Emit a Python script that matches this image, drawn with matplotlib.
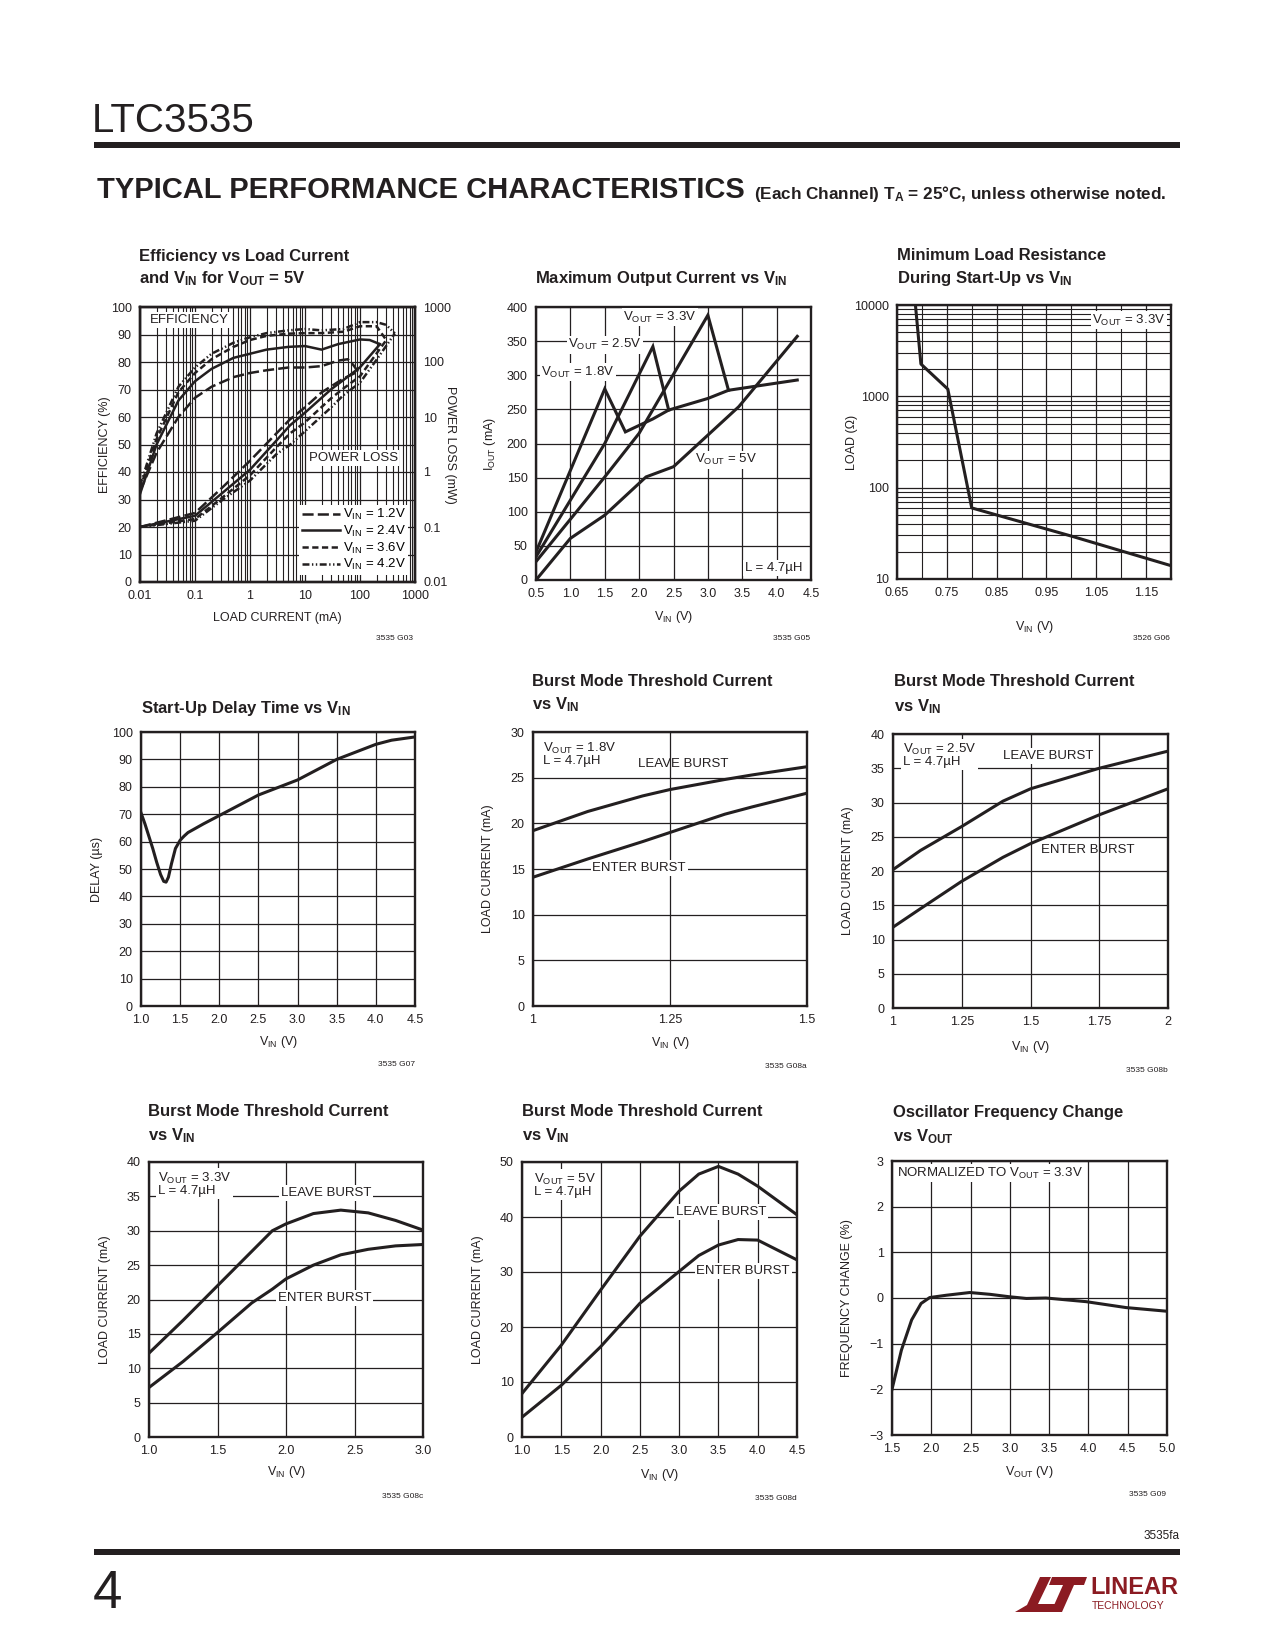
import matplotlib
matplotlib.use('Agg')
import matplotlib.pyplot as plt
from matplotlib.patches import Polygon, Rectangle
from matplotlib.lines import Line2D
from matplotlib.ticker import LogLocator, NullFormatter, NullLocator

# ---------------- data ----------------
# Efficiency vs load current (VOUT = 5V)
eff_i_12 = [0.01, 0.02, 0.05, 0.1, 0.2, 0.5, 1, 2, 5, 10, 20, 40, 60, 75, 92]
eff_12 = [33, 47, 60, 67, 71, 74.5, 76, 77, 78, 78, 78.5, 80.5, 81, 79, 76.5]
eff_i_24 = [0.01, 0.02, 0.05, 0.1, 0.2, 0.5, 1, 2, 5, 10, 20, 40, 100, 150, 230]
eff_24 = [32, 50, 66, 73, 77.5, 81.5, 83, 84.5, 85.5, 85.8, 84.5, 86.5, 88.2, 88, 86.5]
eff_i_36 = [0.01, 0.02, 0.05, 0.1, 0.2, 0.5, 1, 2, 5, 10, 20, 50, 100, 200, 300]
eff_36 = [34, 52, 69, 76, 81, 85.5, 88, 89.5, 90.3, 90.5, 90.5, 91, 93, 93, 88]
eff_i_42 = [0.01, 0.02, 0.05, 0.1, 0.2, 0.5, 1, 2, 5, 10, 20, 50, 100, 200, 300, 430]
eff_42 = [35, 54, 71, 78, 83, 87, 89, 90.5, 91.5, 92, 91.5, 92, 94.5, 94.5, 93.5, 90.4]

loss_i_12 = [0.01, 0.1, 0.3, 1, 3, 5.3, 10, 20, 50, 92]
loss_12 = [0.1, 0.18, 0.5, 1.6, 5, 9, 15, 28, 50, 67]
loss_i_24 = [0.01, 0.1, 0.3, 1, 3, 5.3, 10, 30, 50, 100, 230]
loss_24 = [0.1, 0.16, 0.4, 1.1, 3.7, 7, 12, 32, 47, 80, 210]
loss_i_36 = [0.01, 0.1, 0.3, 1, 3, 5.3, 10, 30, 50, 100, 300]
loss_36 = [0.1, 0.14, 0.33, 0.87, 2.8, 5, 8, 22, 33, 55, 250]
loss_i_42 = [0.01, 0.1, 0.3, 1, 3, 5.3, 10, 30, 50, 100, 200, 430]
loss_42 = [0.1, 0.13, 0.3, 0.7, 2.1, 3.1, 5.5, 15, 25, 42, 110, 330]

vin_labels = ['1.2V', '2.4V', '3.6V', '4.2V']

# Maximum output current vs VIN
mo_v_18 = [0.5, 1.5, 1.8, 2.2, 2.43, 3.0, 3.3, 4.3]
mo_i_18 = [41, 280, 217, 236, 249, 266, 278, 293]
mo_v_25 = [0.5, 1.5, 2.2, 2.43]
mo_i_25 = [34, 200, 342, 249]
mo_v_33 = [0.5, 1.5, 2.0, 3.0, 3.3]
mo_i_33 = [27, 151, 215, 388, 278]
mo_v_5 = [0.5, 1.0, 1.5, 2.1, 2.5, 3.45, 4.3]
mo_i_5 = [0, 61, 95, 151, 166, 254, 357]

# Minimum load resistance during start-up
ml_v = [0.687, 0.698, 0.752, 0.80, 1.0, 1.2]
ml_r = [10000, 2260, 1200, 60, 29.5, 14]

# Start-up delay time
sd_v = [1.0, 1.05, 1.1, 1.15, 1.2, 1.25, 1.29, 1.32, 1.35, 1.39, 1.44, 1.5, 1.55, 1.6,
        1.8, 2.0, 2.5, 3.0, 3.5, 4.0, 4.2, 4.5]
sd_t = [70.5, 66.5, 62, 57.5, 52.5, 48, 45.5, 45.2, 47, 52, 57.5, 60.5, 62, 63.3,
        66.5, 69.5, 77, 82.5, 90, 95.5, 97, 98.2]

# Burst mode thresholds
b18_v = [1.0, 1.1, 1.2, 1.25, 1.35, 1.4, 1.5]
b18_leave = [19.2, 21.3, 23.0, 23.7, 24.8, 25.3, 26.2]
b18_enter = [14.1, 16.1, 18.0, 19.0, 21.0, 21.8, 23.3]

b25_v = [1.0, 1.1, 1.25, 1.4, 1.5, 1.75, 2.0]
b25_leave = [20.2, 23.0, 26.5, 30.2, 32.0, 35.0, 37.5]
b25_enter = [11.8, 14.5, 18.5, 22.0, 24.0, 28.2, 32.0]

b33_v = [1.0, 1.25, 1.5, 1.75, 1.9, 2.0, 2.2, 2.4, 2.6, 2.8, 3.0]
b33_leave = [12.2, 17.0, 22.0, 27.0, 30.0, 31.0, 32.5, 33.0, 32.6, 31.5, 30.1]
b33_enter = [7.2, 11.0, 15.2, 19.5, 21.5, 23.0, 25.0, 26.5, 27.3, 27.8, 28.0]

b5_v = [1.0, 1.5, 2.0, 2.5, 3.0, 3.25, 3.5, 3.75, 4.0, 4.5]
b5_leave = [7.9, 16.7, 26.7, 36.5, 44.7, 47.8, 49.2, 47.8, 45.6, 40.4]
b5_enter = [3.6, 9.4, 16.4, 24.3, 30.1, 33.0, 34.9, 35.9, 35.8, 32.2]

# Oscillator frequency change vs VOUT
of_v = [1.5, 1.62, 1.75, 1.87, 1.98, 2.19, 2.49, 2.75, 2.98, 3.21, 3.46, 3.97, 4.48, 5.0]
of_pct = [-2.0, -1.14, -0.48, -0.12, 0.01, 0.06, 0.12, 0.08, 0.03, -0.01, 0.0, -0.08, -0.21, -0.29]

# ---------------- style ----------------
plt.rcParams['font.family'] = ['Liberation Sans', 'DejaVu Sans']
plt.rcParams['mathtext.fontset'] = 'custom'
plt.rcParams['mathtext.rm'] = 'Liberation Sans'
plt.rcParams['mathtext.sf'] = 'Liberation Sans'
plt.rcParams['mathtext.it'] = 'Liberation Sans:italic'
plt.rcParams['mathtext.bf'] = 'Liberation Sans:bold'
plt.rcParams['lines.scale_dashes'] = False

INK = '#231f20'
MAROON = '#8b1b22'
W, H = 1275, 1650
TICK_FS = 9
LAB_FS = 9
ANN_FS = 9.5
TITLE_FS = 12
LW = 2.2

fig = plt.figure(figsize=(12.75, 16.5), dpi=100)


def rect(l, t, r, b):
    return [l / W, 1 - b / H, (r - l) / W, (b - t) / H]


def ftext(x, y, s, **kw):
    kw.setdefault('color', INK)
    fig.text(x / W, 1 - y / H, s, **kw)


def make_axes(box, xlab, ylab, xdist, ydist):
    l, t, r, b = box
    ax = fig.add_axes(rect(l, t, r, b))
    ax.set_axisbelow(True)
    ax.grid(True, color=INK, lw=0.9)
    ax.tick_params(which='both', length=0, labelsize=TICK_FS, pad=6, colors=INK)
    for s in ax.spines.values():
        s.set_linewidth(1.7)
        s.set_color(INK)
    ax.set_xlabel(xlab, fontsize=LAB_FS, color=INK)
    ax.xaxis.set_label_coords(0.5, -xdist / (b - t))
    ax.xaxis.label.set_va('center')
    ax.set_ylabel(ylab, fontsize=LAB_FS, color=INK)
    ax.yaxis.set_label_coords(-ydist / (r - l), 0.5)
    ax.yaxis.label.set_va('center')
    return ax


def note(ax, x, y, s, ha='center', va='center', box=True, **kw):
    bb = dict(facecolor='white', edgecolor='none', pad=1.2) if box else None
    ax.text(x, y, s, transform=ax.transAxes, ha=ha, va=va, fontsize=ANN_FS,
            color=INK, bbox=bb, zorder=5, **kw)


def title(x, ys, lines):
    for y, s in zip(ys, lines):
        ftext(x, y, s, fontsize=TITLE_FS, fontweight='bold', va='center', ha='left')


# ---------------- page header / footer ----------------
ftext(92, 121, 'LTC3535', fontsize=29, va='center', ha='left')
fig.add_artist(Rectangle((94 / W, 1 - 148 / H), (1180 - 94) / W, 6 / H,
                         transform=fig.transFigure, color=INK, lw=0))
ftext(97, 190, 'TYPICAL PERFORMANCE CHARACTERISTICS', fontsize=21,
      fontweight='bold', va='center', ha='left')
ftext(1166, 194, r'(Each Channel) T$_{\mathbf{A}}$ = 25°C, unless otherwise noted.',
      fontsize=12.3, fontweight='bold', va='center', ha='right')

ftext(1180, 1536, '3535fa', fontsize=8.5, va='center', ha='right')
fig.add_artist(Rectangle((94 / W, 1 - 1555 / H), (1180 - 94) / W, 6 / H,
                         transform=fig.transFigure, color=INK, lw=0))
ftext(93, 1594, '4', fontsize=38, va='center', ha='left')


def fp(pts):
    return [(x / W, 1 - y / H) for x, y in pts]


fig.add_artist(Polygon(fp([(1040, 1577), (1051, 1577), (1038, 1604), (1061, 1604),
                           (1057, 1612), (1015, 1612), (1027, 1605)]),
                       transform=fig.transFigure, color=MAROON, lw=0))
fig.add_artist(Polygon(fp([(1052, 1577), (1087, 1577), (1084, 1585), (1074, 1585),
                           (1062, 1612), (1051, 1612), (1063, 1585), (1049, 1585)]),
                       transform=fig.transFigure, color=MAROON, lw=0))
ftext(1090, 1588, 'LINEAR', fontsize=17, fontweight='bold', va='center', ha='left',
      color=MAROON)
ftext(1092, 1606, 'TECHNOLOGY', fontsize=7.5, va='center', ha='left', color=MAROON)

# ---------------- chart 1: efficiency ----------------
title(139, [257, 279], ['Efficiency vs Load Current',
                        r'and V$_{\mathbf{IN}}$ for V$_{\mathbf{OUT}}$ = 5V'])
ax = make_axes((140, 307, 415, 582), 'LOAD CURRENT (mA)', 'EFFICIENCY (%)', 36, 35)
ax.set_xscale('log')
ax.set_xlim(0.01, 1000)
ax.set_ylim(0, 100)
ax.set_xticks([0.01, 0.1, 1, 10, 100, 1000])
ax.set_xticklabels(['0.01', '0.1', '1', '10', '100', '1000'])
ax.xaxis.set_minor_locator(LogLocator(base=10, subs=range(2, 10), numticks=20))
ax.xaxis.set_minor_formatter(NullFormatter())
ax.set_yticks(range(0, 101, 10))
ax.grid(True, which='minor', axis='x', color=INK, lw=0.8)
ax.grid(False, which='minor', axis='y')

dashes = [(0, (8, 3)), '-', (0, (4.5, 2.5)), (0, (5, 1.8, 1, 1.8, 1, 1.8))]
eff_sets = [(eff_i_12, eff_12), (eff_i_24, eff_24), (eff_i_36, eff_36), (eff_i_42, eff_42)]
loss_sets = [(loss_i_12, loss_12), (loss_i_24, loss_24), (loss_i_36, loss_36), (loss_i_42, loss_42)]
for (xi, yi), ls in zip(eff_sets, dashes):
    ax.plot(xi, yi, color=INK, lw=1.8, ls=ls)

axr = ax.twinx()
axr.set_yscale('log')
axr.set_ylim(0.01, 1000)
axr.set_xlim(0.01, 1000)
axr.set_yticks([0.01, 0.1, 1, 10, 100, 1000])
axr.set_yticklabels(['0.01', '0.1', '1', '10', '100', '1000'])
axr.yaxis.set_minor_locator(NullLocator())
axr.tick_params(which='both', length=0, labelsize=TICK_FS, pad=6, colors=INK)
for s in axr.spines.values():
    s.set_linewidth(1.7)
    s.set_color(INK)
axr.set_ylabel('POWER LOSS (mW)', rotation=270, fontsize=LAB_FS, color=INK)
axr.yaxis.set_label_coords(1 + 35 / 275, 0.5)
axr.yaxis.label.set_va('center')
for (xi, yi), ls in zip(loss_sets, dashes):
    axr.plot(xi, yi, color=INK, lw=1.8, ls=ls)

handles = [Line2D([], [], color=INK, lw=1.8, ls=ls) for ls in dashes]
labels = [r'V$_{\mathrm{IN}}$ = ' + v for v in vin_labels]
axr.legend(handles, labels, loc='lower right', bbox_to_anchor=(0.975, 0.025),
           frameon=True, fancybox=False, edgecolor='none', framealpha=1,
           fontsize=ANN_FS, handlelength=2.9, handletextpad=0.2, labelspacing=0.12,
           borderpad=0.2, borderaxespad=0)
note(axr, 0.18, 0.953, 'EFFICIENCY')
note(axr, 0.775, 0.451, 'POWER LOSS')
ftext(413, 638, '3535 G03', fontsize=6, ha='right', va='center')

# ---------------- chart 2: max output current ----------------
title(535, [278], [r'Maximum Output Current vs V$_{\mathbf{IN}}$'])
ax = make_axes((536, 307, 811, 580), r'V$_{\mathrm{IN}}$ (V)', r'I$_{\mathrm{OUT}}$ (mA)', 37, 46)
ax.set_xlim(0.5, 4.5)
ax.set_ylim(0, 400)
xt = [0.5, 1.0, 1.5, 2.0, 2.5, 3.0, 3.5, 4.0, 4.5]
ax.set_xticks(xt)
ax.set_xticklabels([f'{v:.1f}' for v in xt])
ax.set_yticks(range(0, 401, 50))
for xv, yv in [(mo_v_18, mo_i_18), (mo_v_25, mo_i_25), (mo_v_33, mo_i_33), (mo_v_5, mo_i_5)]:
    ax.plot(xv, yv, color=INK, lw=LW, solid_joinstyle='miter')
note(ax, 0.451, 0.963, r'V$_{\mathrm{OUT}}$ = 3.3V')
note(ax, 0.251, 0.861, r'V$_{\mathrm{OUT}}$ = 2.5V')
note(ax, 0.153, 0.762, r'V$_{\mathrm{OUT}}$ = 1.8V')
note(ax, 0.691, 0.44, r'V$_{\mathrm{OUT}}$ = 5V')
note(ax, 0.865, 0.044, 'L = 4.7µH')
ftext(810, 638, '3535 G05', fontsize=6, ha='right', va='center')

# ---------------- chart 3: minimum load resistance ----------------
title(897, [255, 278], ['Minimum Load Resistance', r'During Start-Up vs V$_{\mathbf{IN}}$'])
ax = make_axes((897, 305, 1171, 579), r'V$_{\mathrm{IN}}$ (V)', 'LOAD (Ω)', 48, 45)
ax.set_yscale('log')
ax.set_xlim(0.65, 1.2)
ax.set_ylim(10, 10000)
xt = [0.65, 0.75, 0.85, 0.95, 1.05, 1.15]
ax.set_xticks(xt)
ax.set_xticklabels([f'{v:.2f}' for v in xt])
ax.set_xticks([0.70, 0.80, 0.90, 1.00, 1.10], minor=True)
ax.set_yticks([10, 100, 1000, 10000])
ax.set_yticklabels(['10', '100', '1000', '10000'])
ax.yaxis.set_minor_locator(LogLocator(base=10, subs=range(2, 10), numticks=20))
ax.yaxis.set_minor_formatter(NullFormatter())
ax.grid(True, which='minor', color=INK, lw=0.8)
ax.tick_params(which='both', length=0)
ax.plot(ml_v, ml_r, color=INK, lw=LW)
note(ax, 0.847, 0.945, r'V$_{\mathrm{OUT}}$ = 3.3V')
ftext(1170, 638, '3526 G06', fontsize=6, ha='right', va='center')

# ---------------- chart 4: start-up delay ----------------
title(141, [708], [r'Start-Up Delay Time vs V$_{\mathbf{IN}}$'])
ax = make_axes((141, 732, 415, 1006), r'V$_{\mathrm{IN}}$ (V)', 'DELAY (µs)', 36, 44)
ax.set_xlim(1.0, 4.5)
ax.set_ylim(0, 100)
xt = [1.0, 1.5, 2.0, 2.5, 3.0, 3.5, 4.0, 4.5]
ax.set_xticks(xt)
ax.set_xticklabels([f'{v:.1f}' for v in xt])
ax.set_yticks(range(0, 101, 10))
ax.plot(sd_v, sd_t, color=INK, lw=LW)
ftext(415, 1065, '3535 G07', fontsize=6, ha='right', va='center')

# ---------------- chart 5: burst 1.8V ----------------
title(532, [681, 705], ['Burst Mode Threshold Current', r'vs V$_{\mathbf{IN}}$'])
ax = make_axes((533, 732, 807, 1006), r'V$_{\mathrm{IN}}$ (V)', 'LOAD CURRENT (mA)', 37, 45)
ax.set_xlim(1.0, 1.5)
ax.set_ylim(0, 30)
ax.set_xticks([1.0, 1.25, 1.5])
ax.set_xticklabels(['1', '1.25', '1.5'])
ax.set_yticks(range(0, 31, 5))
ax.plot(b18_v, b18_leave, color=INK, lw=LW)
ax.plot(b18_v, b18_enter, color=INK, lw=LW)
note(ax, 0.036, 0.968, r'V$_{\mathrm{OUT}}$ = 1.8V' + '\nL = 4.7µH', ha='left', va='top',
     linespacing=0.95)
note(ax, 0.547, 0.883, 'LEAVE BURST', box=False)
note(ax, 0.387, 0.504, 'ENTER BURST')
ftext(807, 1067, '3535 G08a', fontsize=6, ha='right', va='center')

# ---------------- chart 6: burst 2.5V ----------------
title(894, [681, 707], ['Burst Mode Threshold Current', r'vs V$_{\mathbf{IN}}$'])
ax = make_axes((893, 734, 1168, 1008), r'V$_{\mathrm{IN}}$ (V)', 'LOAD CURRENT (mA)', 39, 45)
ax.set_xlim(1.0, 2.0)
ax.set_ylim(0, 40)
ax.set_xticks([1.0, 1.25, 1.5, 1.75, 2.0])
ax.set_xticklabels(['1', '1.25', '1.5', '1.75', '2'])
ax.set_yticks(range(0, 41, 5))
ax.plot(b25_v, b25_leave, color=INK, lw=LW)
ax.plot(b25_v, b25_enter, color=INK, lw=LW)
note(ax, 0.036, 0.972, r'V$_{\mathrm{OUT}}$ = 2.5V' + '\nL = 4.7µH', ha='left', va='top',
     linespacing=0.95)
note(ax, 0.564, 0.92, 'LEAVE BURST')
note(ax, 0.709, 0.577, 'ENTER BURST', box=False)
ftext(1168, 1070, '3535 G08b', fontsize=6, ha='right', va='center')

# ---------------- chart 7: burst 3.3V ----------------
title(148, [1111, 1136], ['Burst Mode Threshold Current', r'vs V$_{\mathbf{IN}}$'])
ax = make_axes((149, 1162, 423, 1437), r'V$_{\mathrm{IN}}$ (V)', 'LOAD CURRENT (mA)', 35, 44)
ax.set_xlim(1.0, 3.0)
ax.set_ylim(0, 40)
xt = [1.0, 1.5, 2.0, 2.5, 3.0]
ax.set_xticks(xt)
ax.set_xticklabels([f'{v:.1f}' for v in xt])
ax.set_yticks(range(0, 41, 5))
ax.plot(b33_v, b33_leave, color=INK, lw=LW)
ax.plot(b33_v, b33_enter, color=INK, lw=LW)
note(ax, 0.033, 0.968, r'V$_{\mathrm{OUT}}$ = 3.3V' + '\nL = 4.7µH', ha='left', va='top',
     linespacing=0.95)
note(ax, 0.646, 0.887, 'LEAVE BURST')
note(ax, 0.642, 0.505, 'ENTER BURST')
ftext(423, 1497, '3535 G08c', fontsize=6, ha='right', va='center')

# ---------------- chart 8: burst 5V ----------------
title(522, [1111, 1136], ['Burst Mode Threshold Current', r'vs V$_{\mathbf{IN}}$'])
ax = make_axes((522, 1162, 797, 1437), r'V$_{\mathrm{IN}}$ (V)', 'LOAD CURRENT (mA)', 38, 44)
ax.set_xlim(1.0, 4.5)
ax.set_ylim(0, 50)
xt = [1.0, 1.5, 2.0, 2.5, 3.0, 3.5, 4.0, 4.5]
ax.set_xticks(xt)
ax.set_xticklabels([f'{v:.1f}' for v in xt])
ax.set_yticks(range(0, 51, 10))
ax.plot(b5_v, b5_leave, color=INK, lw=LW)
ax.plot(b5_v, b5_enter, color=INK, lw=LW)
note(ax, 0.044, 0.965, r'V$_{\mathrm{OUT}}$ = 5V' + '\nL = 4.7µH', ha='left', va='top',
     linespacing=0.95)
note(ax, 0.724, 0.818, 'LEAVE BURST')
note(ax, 0.804, 0.604, 'ENTER BURST')
ftext(797, 1498, '3535 G08d', fontsize=6, ha='right', va='center')

# ---------------- chart 9: oscillator frequency ----------------
title(893, [1112, 1137], ['Oscillator Frequency Change', r'vs V$_{\mathbf{OUT}}$'])
ax = make_axes((892, 1161, 1167, 1435), r'V$_{\mathrm{OUT}}$ (V)', 'FREQUENCY CHANGE (%)', 37, 45)
ax.set_xlim(1.5, 5.0)
ax.set_ylim(-3, 3)
xt = [1.5, 2.0, 2.5, 3.0, 3.5, 4.0, 4.5, 5.0]
ax.set_xticks(xt)
ax.set_xticklabels([f'{v:.1f}' for v in xt])
ax.set_yticks(range(-3, 4))
ax.set_yticklabels(['\u22123', '\u22122', '\u22121', '0', '1', '2', '3'])
ax.plot(of_v, of_pct, color=INK, lw=LW)
note(ax, 0.018, 0.956, r'NORMALIZED TO V$_{\mathrm{OUT}}$ = 3.3V', ha='left')
ftext(1166, 1495, '3535 G09', fontsize=6, ha='right', va='center')

fig.savefig('out.png', dpi=100, facecolor='white')
